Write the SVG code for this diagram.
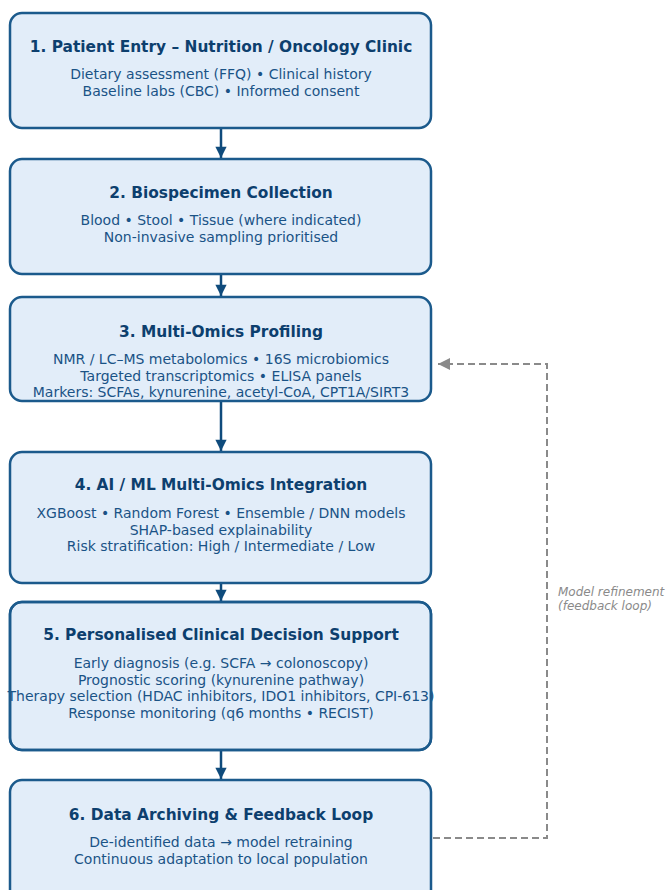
<svg xmlns="http://www.w3.org/2000/svg" width="669" height="890" viewBox="0 0 669 890">
<defs>
<style>
.box{fill:#e2edf9;stroke:#1b5a8c;stroke-width:2.5}
.t{font-family:"DejaVu Sans",sans-serif;font-weight:bold;font-size:15.4px;fill:#0d3f6e;text-anchor:middle}
.b{font-family:"DejaVu Sans",sans-serif;font-size:14px;fill:#1a5386;text-anchor:middle}
.flow{stroke:#0f4b7c;stroke-width:2.5;fill:none}
.fb{stroke:#8a8a8a;stroke-width:2;fill:none;stroke-dasharray:7,4}
.lbl{font-family:"DejaVu Sans",sans-serif;font-style:italic;font-size:12px;fill:#8a8a8a}
</style>
<marker id="ah" viewBox="0 0 10 10" refX="10" refY="5" markerWidth="5" markerHeight="4.5" markerUnits="strokeWidth" orient="auto">
<path d="M0,0 L10,5 L0,10 z" fill="#0f4b7c"/>
</marker>
<marker id="gh" viewBox="0 0 10 10" refX="10" refY="5" markerWidth="6" markerHeight="6" markerUnits="strokeWidth" orient="auto">
<path d="M0,0 L10,5 L0,10 z" fill="#8a8a8a"/>
</marker>
</defs>
<rect width="669" height="890" fill="#ffffff"/>
<g id="connectors">
<line class="flow" x1="221" y1="129" x2="221" y2="158" marker-end="url(#ah)"/>
<line class="flow" x1="221" y1="275" x2="221" y2="296" marker-end="url(#ah)"/>
<line class="flow" x1="221" y1="402" x2="221" y2="451" marker-end="url(#ah)"/>
<line class="flow" x1="221" y1="584" x2="221" y2="601" marker-end="url(#ah)"/>
<line class="flow" x1="221" y1="751" x2="221" y2="779" marker-end="url(#ah)"/>
<polyline class="fb" points="433,838 547,838 547,364 438,364" marker-end="url(#gh)"/>
<text class="lbl" x="558" y="596">Model refinement</text>
<text class="lbl" x="558" y="610">(feedback loop)</text>
</g>
<g id="node1">
<rect class="box" x="10" y="13" width="421" height="115" rx="12"/>
<text class="t" x="221" y="52">1. Patient Entry – Nutrition / Oncology Clinic</text>
<text class="b" x="221" y="79">Dietary assessment (FFQ) • Clinical history</text>
<text class="b" x="221" y="96">Baseline labs (CBC) • Informed consent</text>
</g>
<g id="node2">
<rect class="box" x="10" y="159" width="421" height="115" rx="12"/>
<text class="t" x="221" y="198">2. Biospecimen Collection</text>
<text class="b" x="221" y="225">Blood • Stool • Tissue (where indicated)</text>
<text class="b" x="221" y="242">Non-invasive sampling prioritised</text>
</g>
<g id="node3">
<rect class="box" x="10" y="297" width="421" height="104" rx="12"/>
<text class="t" x="221" y="337">3. Multi-Omics Profiling</text>
<text class="b" x="221" y="364">NMR / LC–MS metabolomics • 16S microbiomics</text>
<text class="b" x="221" y="381">Targeted transcriptomics • ELISA panels</text>
<text class="b" x="221" y="397">Markers: SCFAs, kynurenine, acetyl-CoA, CPT1A/SIRT3</text>
</g>
<g id="node4">
<rect class="box" x="10" y="452" width="421" height="131" rx="12"/>
<text class="t" x="221" y="490">4. AI / ML Multi-Omics Integration</text>
<text class="b" x="221" y="518">XGBoost • Random Forest • Ensemble / DNN models</text>
<text class="b" x="221" y="535">SHAP-based explainability</text>
<text class="b" x="221" y="551">Risk stratification: High / Intermediate / Low</text>
</g>
<g id="node5">
<rect class="box" x="10" y="602" width="421" height="148" rx="12"/>
<text class="t" x="221" y="640">5. Personalised Clinical Decision Support</text>
<text class="b" x="221" y="668">Early diagnosis (e.g. SCFA → colonoscopy)</text>
<text class="b" x="221" y="685">Prognostic scoring (kynurenine pathway)</text>
<text class="b" x="221" y="701">Therapy selection (HDAC inhibitors, IDO1 inhibitors, CPI-613)</text>
<text class="b" x="221" y="718">Response monitoring (q6 months • RECIST)</text>
<rect x="10" y="602" width="421" height="148" rx="12" fill="none" stroke="#1b5a8c" stroke-width="2.5"/>
</g>
<g id="node6">
<rect class="box" x="10" y="780" width="421" height="122" rx="12"/>
<text class="t" x="221" y="820">6. Data Archiving &amp; Feedback Loop</text>
<text class="b" x="221" y="847">De-identified data → model retraining</text>
<text class="b" x="221" y="864">Continuous adaptation to local population</text>
</g>
</svg>
